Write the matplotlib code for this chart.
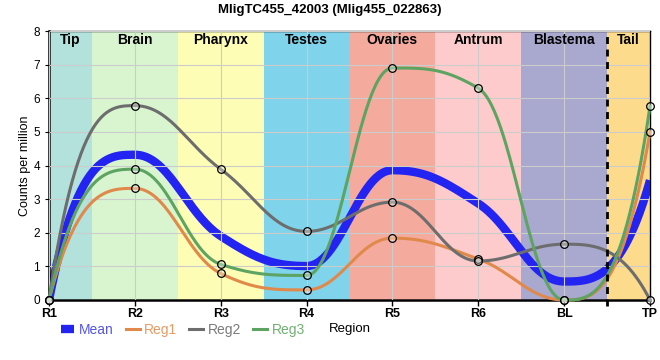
import matplotlib.pyplot as plt
import numpy as np

plt.rcParams['font.family'] = ['Liberation Sans', 'DejaVu Sans']

categories = ['R1', 'R2', 'R3', 'R4', 'R5', 'R6', 'BL', 'TP']
mean = [0.0, 4.32, 1.90, 1.01, 3.86, 2.87, 0.55, 3.56]
reg1 = [0.0, 3.32, 0.79, 0.30, 1.84, 1.22, 0.0, 5.00]
reg2 = [0.0, 5.78, 3.89, 2.04, 2.91, 1.16, 1.66, 0.0]
reg3 = [0.0, 3.89, 1.06, 0.73, 6.90, 6.30, 0.0, 5.76]

regions = ['Tip', 'Brain', 'Pharynx', 'Testes', 'Ovaries', 'Antrum', 'Blastema', 'Tail']
region_colors = ['#b3e2dd', '#d8f5d0', '#fdfdb5', '#7fd3ea', '#f4ab9e', '#fdcbcb', '#a9a8cf', '#fddb8d']


def spline(x, y, n=60):
    # bezier spline, control points clamped so extremes stay flat
    x = np.asarray(x, float)
    y = np.asarray(y, float)
    k = len(x)
    lcx, lcy = x.copy(), y.copy()
    rcx, rcy = x.copy(), y.copy()
    sm = 1.5
    for i in range(1, k - 1):
        lx = (sm * x[i] + x[i - 1]) / (sm + 1)
        ly = (sm * y[i] + y[i - 1]) / (sm + 1)
        rx = (sm * x[i] + x[i + 1]) / (sm + 1)
        ry = (sm * y[i] + y[i + 1]) / (sm + 1)
        corr = (ry - ly) * (rx - x[i]) / (rx - lx) + y[i] - ry
        ly += corr
        ry += corr
        if ly > y[i - 1] and ly > y[i]:
            ly = max(y[i - 1], y[i])
            ry = 2 * y[i] - ly
        elif ly < y[i - 1] and ly < y[i]:
            ly = min(y[i - 1], y[i])
            ry = 2 * y[i] - ly
        if ry > y[i + 1] and ry > y[i]:
            ry = max(y[i + 1], y[i])
            ly = 2 * y[i] - ry
        elif ry < y[i + 1] and ry < y[i]:
            ry = min(y[i + 1], y[i])
            ly = 2 * y[i] - ry
        lcx[i], lcy[i], rcx[i], rcy[i] = lx, ly, rx, ry
    # end segments: steep start, bending into the neighbour
    h0 = x[1] - x[0]
    m1 = (rcy[1] - lcy[1]) / (rcx[1] - lcx[1])
    rcx[0] = x[0] + h0 / 3
    rcy[0] = y[1] - 2 * m1 * h0 / 3
    lcx[1], lcy[1] = x[1] - h0 / 3, y[1] - m1 * h0 / 3
    h1 = x[-1] - x[-2]
    m2 = (rcy[-2] - lcy[-2]) / (rcx[-2] - lcx[-2])
    lcx[-1] = x[-1] - h1 / 3
    lcy[-1] = y[-2] + 2 * m2 * h1 / 3
    rcx[-2], rcy[-2] = x[-2] + h1 / 3, y[-2] + m2 * h1 / 3
    t = np.linspace(0, 1, n)[:, None]
    b = np.hstack([(1 - t)**3, 3 * t * (1 - t)**2, 3 * t**2 * (1 - t), t**3])
    xs, ys = [], []
    for i in range(k - 1):
        xs.append(b @ np.array([x[i], rcx[i], lcx[i + 1], x[i + 1]]))
        ys.append(b @ np.array([y[i], rcy[i], lcy[i + 1], y[i + 1]]))
    return np.concatenate(xs), np.concatenate(ys)


fig = plt.figure(figsize=(6.6, 3.6), dpi=100)
ax = fig.add_axes([49 / 660, 1 - 300 / 360, 601 / 660, 269 / 360])

x = np.arange(len(categories))
for i, (name, col) in enumerate(zip(regions, region_colors)):
    lo = max(i - 0.5, 0)
    hi = min(i + 0.5, len(categories) - 1)
    ax.axvspan(lo, hi, color=col, zorder=0, lw=0)
    ax.text((lo + hi) / 2, 7.72, name, ha='center', va='center',
            fontsize=10, fontweight='bold', zorder=5)

ax.plot([6.5, 6.5], [-0.17, 8], color='black', lw=2, ls=(0, (2.5, 2)), zorder=4,
        clip_on=False)

series = [('Reg1', reg1, '#e0894a'), ('Reg2', reg2, '#6d6d6d'), ('Reg3', reg3, '#5da462')]
handles = []
cx, cy = spline(x, mean)
h, = ax.plot(cx, cy, color='#2323f2', lw=6, solid_capstyle='butt', zorder=2, label='Mean')
handles.append(h)
for name, vals, col in series:
    cx, cy = spline(x, vals)
    h, = ax.plot(cx, cy, color=col, lw=2.2, zorder=3, label=name, clip_on=False)
    handles.append(h)
    ax.plot(x, vals, 'o', ms=5.5, mfc=(1, 1, 1, 0.35), mec='black', mew=0.9,
            zorder=6, clip_on=False)

ax.set_xlim(0, len(categories) - 1)
ax.set_ylim(0, 8)
ax.set_xticks(x)
ax.set_xticklabels(categories, fontsize=9, fontweight='bold')
ax.set_yticks(range(9))
ax.tick_params(axis='y', labelsize=8.5, length=3)
ax.tick_params(axis='x', length=4, width=1, pad=2)
ax.grid(color='#cccccc', lw=0.8, zorder=1)
ax.set_axisbelow(False)
for s in ax.spines.values():
    s.set_linewidth(1)
ax.spines['left'].set_linewidth(1.8)
ax.spines['bottom'].set_linewidth(1.8)

ax.set_ylabel('Counts per million', fontsize=9, labelpad=2)
ax.set_xlabel('Region', fontsize=9.5, labelpad=2)
fig.text(0.5, 1 - 10 / 360, 'MligTC455_42003 (Mlig455_022863)', ha='center', va='center',
         fontsize=9.5, fontweight='bold')

leg = fig.legend(handles=handles, loc='center left', bbox_to_anchor=(48 / 660, 1 - 330 / 360),
                 ncol=4, frameon=False, fontsize=10, handlelength=1.0, handletextpad=0.3,
                 columnspacing=0.9, labelcolor=['#5555ee', '#e89a62', '#7a7a7a', '#6fb070'])

plt.savefig('out.png')
